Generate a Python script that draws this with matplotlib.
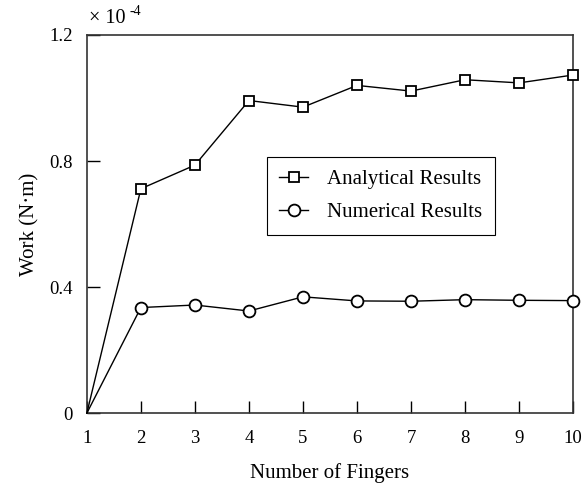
import matplotlib.pyplot as plt

plt.rcParams['font.family'] = ['Liberation Serif', 'DejaVu Serif']

fingers = [1, 2, 3, 4, 5, 6, 7, 8, 9, 10]
analytical = [0, 0.712, 0.787, 0.992, 0.971, 1.040, 1.022, 1.058, 1.048, 1.073]
numerical = [0, 0.335, 0.343, 0.324, 0.369, 0.356, 0.355, 0.360, 0.358, 0.357]

fig = plt.figure(figsize=(5.83, 4.86), dpi=100)
ax = fig.add_axes([0.149, 0.150, 0.834, 0.778])

# first point (origin) has no marker in the original figure
ax.plot(fingers, analytical, color='black', lw=1, marker='s', ms=7.5, markevery=slice(1, None),
        mfc='white', mec='black', mew=1.3, label='Analytical Results', clip_on=False, zorder=3)
ax.plot(fingers, numerical, color='black', lw=1, marker='o', ms=8.5, markevery=slice(1, None),
        mfc='white', mec='black', mew=1.3, label='Numerical Results', clip_on=False, zorder=3)

ax.set_xlim(1, 10)
ax.set_ylim(0, 1.2)
ax.set_xticks(fingers)
ax.set_yticks([0, 0.4, 0.8, 1.2])
ax.set_yticklabels(['0', '0.4', '0.8', '1.2'])
ax.tick_params(direction='in', length=9, width=1, labelsize=13.5, pad=10)
ax.tick_params(axis='x', pad=12)

for s in ax.spines.values():
    s.set_linewidth(1.2)
    s.set_color('#333333')

ax.set_xlabel('Number of Fingers', fontsize=15, labelpad=12)
ax.set_ylabel('Work (N\u00b7m)', fontsize=15, labelpad=7)

fig.text(0.153, 0.952, '\u00d7 10', fontsize=14.5, ha='left', va='baseline')
fig.text(0.222, 0.970, '-4', fontsize=10, ha='left', va='baseline')

leg = ax.legend(loc='upper left', bbox_to_anchor=(0.37, 0.677), fontsize=15,
                fancybox=False, edgecolor='black', framealpha=1, borderaxespad=0,
                handlelength=1.4, handletextpad=0.9, borderpad=0.6, labelspacing=0.65)
leg.get_frame().set_linewidth(0.8)

plt.savefig('out.png', dpi=100)
